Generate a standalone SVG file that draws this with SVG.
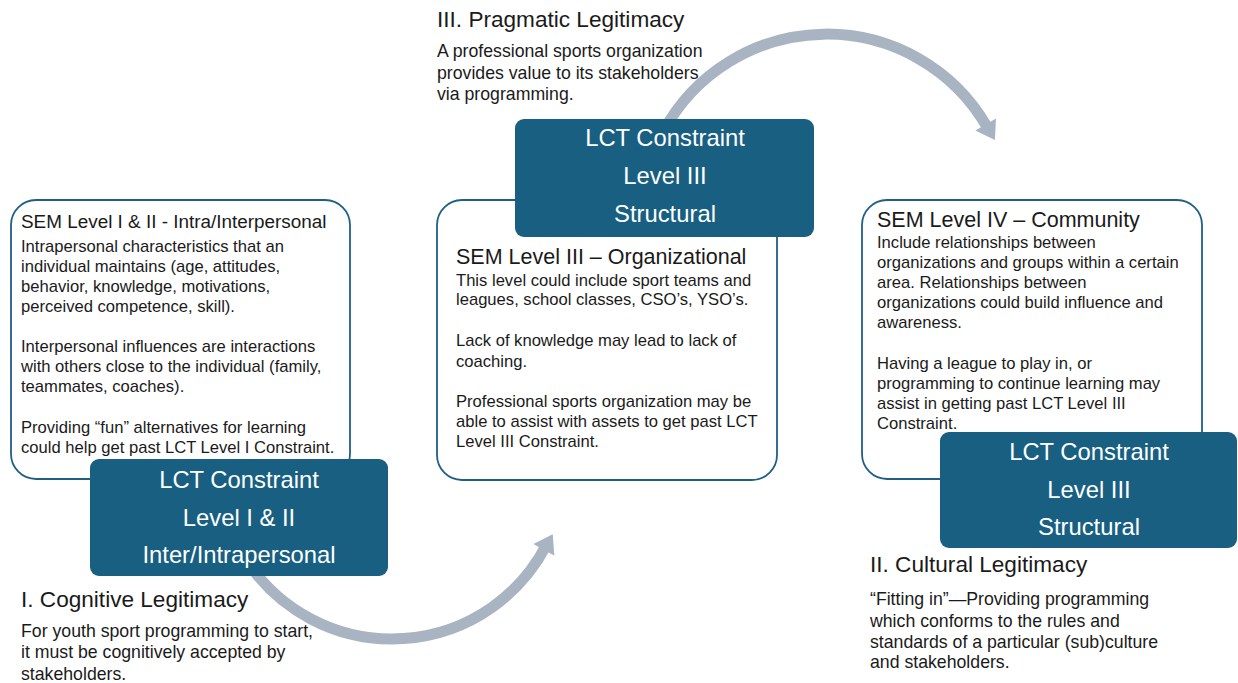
<svg xmlns="http://www.w3.org/2000/svg" width="1238" height="683" viewBox="0 0 1238 683">
  <style>
    .sem { fill: #ffffff; stroke: #1f5f85; stroke-width: 1.8; }
    .lct { fill: #185f81; }
    .lct-text { font-family: "Liberation Sans", Arial, sans-serif; font-size: 23.8px; fill: #ffffff; text-anchor: middle; }
    .title { font-family: "Liberation Sans", Arial, sans-serif; fill: #1a1a1a; }
    .t-sm { font-size: 18.9px; }
    .t-lg { font-size: 21.5px; }
    .body { font-family: "Liberation Sans", Arial, sans-serif; font-size: 16.6px; fill: #1a1a1a; }
    .head { font-family: "Liberation Sans", Arial, sans-serif; font-size: 22.6px; fill: #1a1a1a; }
    .note { font-family: "Liberation Sans", Arial, sans-serif; font-size: 17.7px; fill: #1a1a1a; }
    .flow { fill: none; stroke: #a8b4c1; stroke-width: 11; }
    .flow-head { fill: #a8b4c1; }
  </style>

  <!-- curved flow arrows between the constraint stages -->
  <g id="connectors">
    <path class="flow" d="M 249.5 564.8 A 174 174 0 0 0 546.3 545.3"/>
    <polygon class="flow-head" points="554.4,555.8 552.7,534.2 533.4,544.0"/>
    <path class="flow" d="M 662.8 132.4 A 185.4 185.4 0 0 1 987.3 127.3"/>
    <polygon class="flow-head" points="996.0,118.4 994.9,140.0 975.4,130.6"/>
  </g>

  <!-- SEM Level I & II -->
  <g id="sem-1">
    <rect class="sem" x="11" y="200" width="339" height="279" rx="25"/>
    <text class="title t-sm" x="21" y="228">SEM Level I &amp; II - Intra/Interpersonal</text>
    <text class="body">
      <tspan x="21" y="252">Intrapersonal characteristics that an</tspan>
      <tspan x="21" y="272">individual maintains (age, attitudes,</tspan>
      <tspan x="21" y="292">behavior, knowledge, motivations,</tspan>
      <tspan x="21" y="312">perceived competence, skill).</tspan>
      <tspan x="21" y="352">Interpersonal influences are interactions</tspan>
      <tspan x="21" y="372">with others close to the individual (family,</tspan>
      <tspan x="21" y="392">teammates, coaches).</tspan>
      <tspan x="21" y="433">Providing “fun” alternatives for learning</tspan>
      <tspan x="21" y="453">could help get past LCT Level I Constraint.</tspan>
    </text>
  </g>

  <!-- SEM Level III -->
  <g id="sem-3">
    <rect class="sem" x="437" y="200" width="340" height="280" rx="25"/>
    <text class="title t-lg" x="456" y="264">SEM Level III – Organizational</text>
    <text class="body">
      <tspan x="456" y="286">This level could include sport teams and</tspan>
      <tspan x="456" y="305">leagues, school classes, CSO’s, YSO’s.</tspan>
      <tspan x="456" y="346">Lack of knowledge may lead to lack of</tspan>
      <tspan x="456" y="367">coaching.</tspan>
      <tspan x="456" y="407">Professional sports organization may be</tspan>
      <tspan x="456" y="427">able to assist with assets to get past LCT</tspan>
      <tspan x="456" y="447">Level III Constraint.</tspan>
    </text>
  </g>

  <!-- SEM Level IV -->
  <g id="sem-4">
    <rect class="sem" x="862" y="200" width="340" height="279" rx="25"/>
    <text class="title t-lg" x="877" y="227">SEM Level IV – Community</text>
    <text class="body">
      <tspan x="877" y="248">Include relationships between</tspan>
      <tspan x="877" y="268">organizations and groups within a certain</tspan>
      <tspan x="877" y="288">area. Relationships between</tspan>
      <tspan x="877" y="308">organizations could build influence and</tspan>
      <tspan x="877" y="328">awareness.</tspan>
      <tspan x="877" y="369">Having a league to play in, or</tspan>
      <tspan x="877" y="389">programming to continue learning may</tspan>
      <tspan x="877" y="409">assist in getting past LCT Level III</tspan>
      <tspan x="877" y="429">Constraint.</tspan>
    </text>
  </g>

  <!-- LCT constraint boxes -->
  <g id="lct-1">
    <rect class="lct" x="90" y="459" width="298" height="117" rx="9"/>
    <text class="lct-text" x="239" y="488">LCT Constraint</text>
    <text class="lct-text" x="239" y="526">Level I &amp; II</text>
    <text class="lct-text" x="239" y="563">Inter/Intrapersonal</text>
  </g>

  <g id="lct-3">
    <rect class="lct" x="515" y="119" width="299" height="118" rx="9"/>
    <text class="lct-text" x="665" y="146">LCT Constraint</text>
    <text class="lct-text" x="665" y="184">Level III</text>
    <text class="lct-text" x="665" y="222">Structural</text>
  </g>

  <g id="lct-4">
    <rect class="lct" x="940" y="432" width="297" height="116" rx="9"/>
    <text class="lct-text" x="1089" y="460">LCT Constraint</text>
    <text class="lct-text" x="1089" y="498">Level III</text>
    <text class="lct-text" x="1089" y="535">Structural</text>
  </g>

  <!-- legitimacy stages -->
  <g id="legitimacy-cognitive">
    <text class="head" x="21" y="607">I. Cognitive Legitimacy</text>
    <text class="note">
      <tspan x="21" y="637">For youth sport programming to start,</tspan>
      <tspan x="21" y="658">it must be cognitively accepted by</tspan>
      <tspan x="21" y="680">stakeholders.</tspan>
    </text>
  </g>

  <g id="legitimacy-cultural">
    <text class="head" x="870" y="572">II. Cultural Legitimacy</text>
    <text class="note">
      <tspan x="870" y="605">“Fitting in”—Providing programming</tspan>
      <tspan x="870" y="627">which conforms to the rules and</tspan>
      <tspan x="870" y="648">standards of a particular (sub)culture</tspan>
      <tspan x="870" y="668">and stakeholders.</tspan>
    </text>
  </g>

  <g id="legitimacy-pragmatic">
    <text class="head" x="437" y="27">III. Pragmatic Legitimacy</text>
    <text class="note">
      <tspan x="437" y="57">A professional sports organization</tspan>
      <tspan x="437" y="79">provides value to its stakeholders</tspan>
      <tspan x="437" y="100">via programming.</tspan>
    </text>
  </g>
</svg>
